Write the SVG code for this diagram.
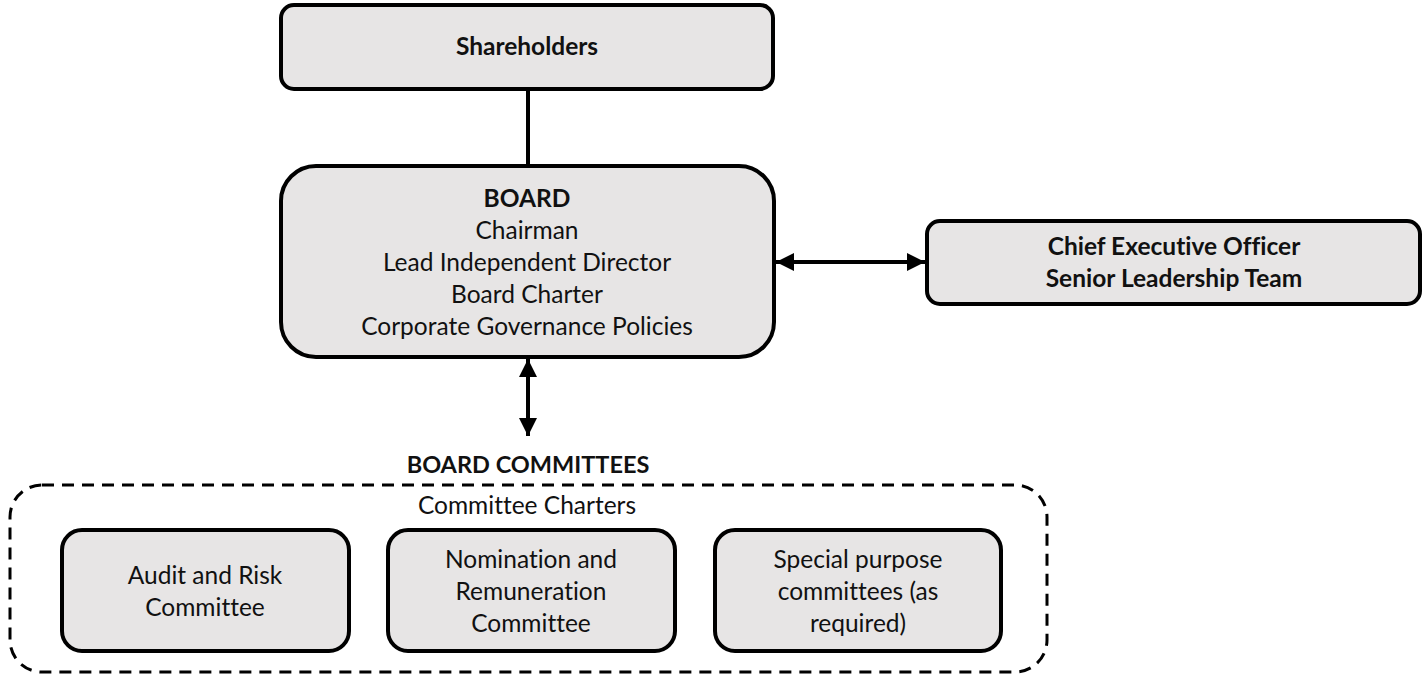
<svg xmlns="http://www.w3.org/2000/svg" width="1427" height="677" viewBox="0 0 1427 677">
<style>
.box{fill:#e7e5e5;stroke:#000;stroke-width:4}
.t{font-family:Lato,"Open Sans",sans-serif;font-size:24.5px;fill:#111;text-anchor:middle;font-variant-ligatures:none}
.b{font-weight:bold}
.c{stroke:#000;stroke-width:4;fill:none}
</style>
<defs>
<marker id="ah" viewBox="0 0 10 10" refX="10" refY="5" markerWidth="4.5" markerHeight="4.5" orient="auto-start-reverse" markerUnits="strokeWidth">
<path d="M0,0 L10,5 L0,10 z" fill="#000"/>
</marker>
</defs>
<rect width="1427" height="677" fill="#fff"/>
<g id="connectors">
<line class="c" x1="528" y1="90" x2="528" y2="166"/>
<line class="c" x1="776" y1="262" x2="925" y2="262" marker-start="url(#ah)" marker-end="url(#ah)"/>
<line class="c" x1="528" y1="359" x2="528" y2="436" marker-start="url(#ah)" marker-end="url(#ah)"/>
</g>
<g id="shareholders">
<rect class="box" x="281" y="5" width="492" height="84" rx="13"/>
<text class="t b" x="527" y="55">Shareholders</text>
</g>
<g id="board">
<rect class="box" x="281" y="166" width="493" height="191" rx="35"/>
<text class="t b" x="527" y="207">BOARD</text>
<text class="t" x="527" y="239">Chairman</text>
<text class="t" x="527" y="271">Lead Independent Director</text>
<text class="t" x="527" y="303">Board Charter</text>
<text class="t" x="527" y="335">Corporate Governance Policies</text>
</g>
<g id="ceo">
<rect class="box" x="927" y="221" width="493" height="83" rx="13"/>
<text class="t b" x="1174" y="255">Chief Executive Officer</text>
<text class="t b" x="1174" y="287">Senior Leadership Team</text>
</g>
<g id="committees">
<text class="t b" x="528" y="473" style="font-size:23.5px">BOARD COMMITTEES</text>
<rect x="10" y="485" width="1037" height="187" rx="32" fill="none" stroke="#000" stroke-width="3" stroke-dasharray="12,8"/>
<text class="t" x="527" y="514">Committee Charters</text>
</g>
<g id="audit">
<rect class="box" x="62" y="530" width="287" height="121" rx="20"/>
<text class="t" x="205" y="584">Audit and Risk</text>
<text class="t" x="205" y="616">Committee</text>
</g>
<g id="nomination">
<rect class="box" x="388" y="530" width="287" height="121" rx="20"/>
<text class="t" x="531" y="568">Nomination and</text>
<text class="t" x="531" y="600">Remuneration</text>
<text class="t" x="531" y="632">Committee</text>
</g>
<g id="special">
<rect class="box" x="715" y="530" width="286" height="121" rx="20"/>
<text class="t" x="858" y="568">Special purpose</text>
<text class="t" x="858" y="600">committees (as</text>
<text class="t" x="858" y="632">required)</text>
</g>
</svg>
